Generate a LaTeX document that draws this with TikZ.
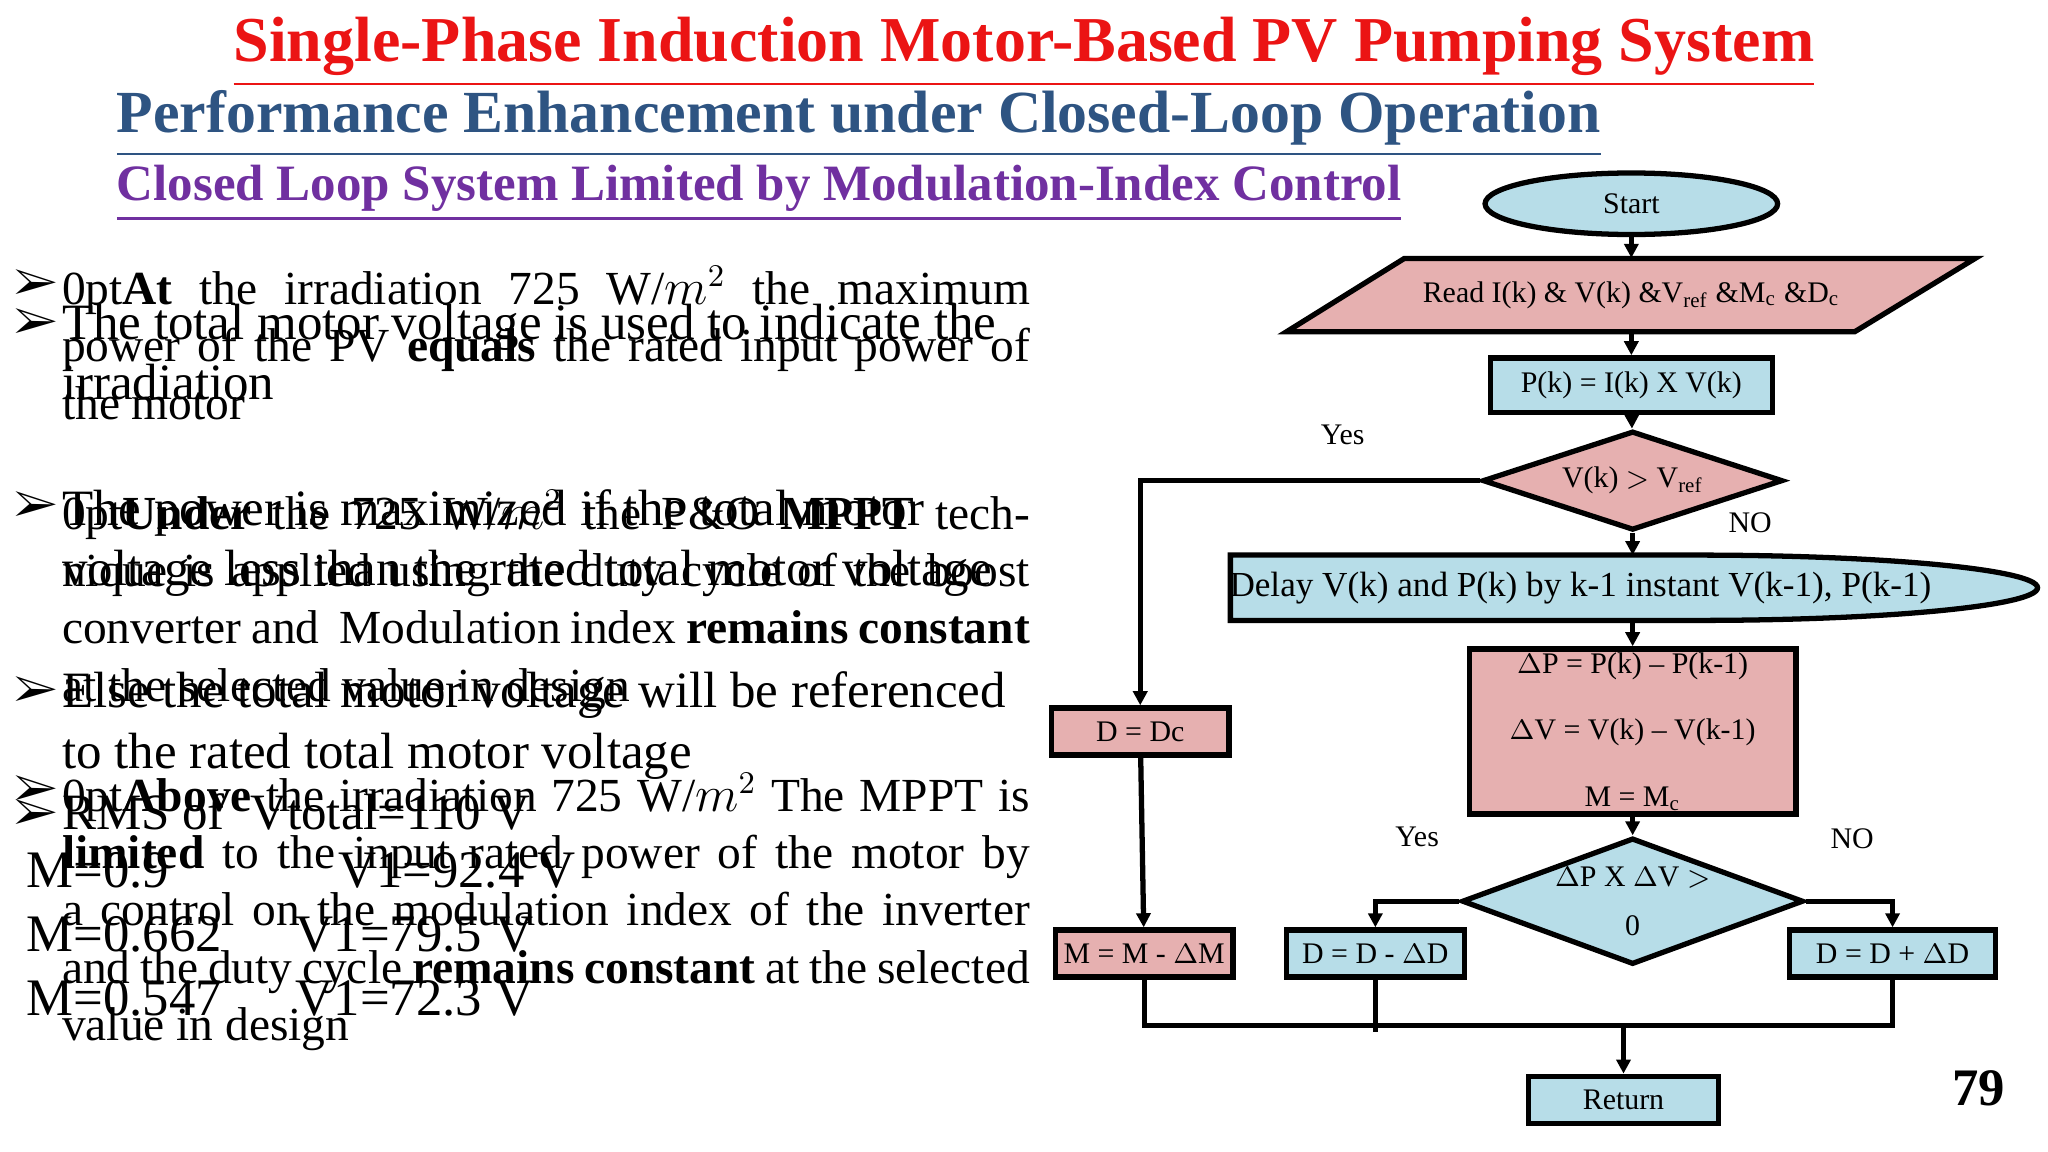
\documentclass[tikz,border=0pt]{standalone}
\usepackage{fontspec}
\setmainfont{Liberation Serif}
\usepackage{amsmath}
\usepackage{pifont}
\usetikzlibrary{shapes.geometric,arrows.meta}
\newlength{\upx}
\setlength{\upx}{0.01306cm}
\definecolor{flowblue}{RGB}{183,221,232}
\definecolor{flowpink}{RGB}{230,176,176}
\definecolor{titlered}{RGB}{235,20,20}
\definecolor{titleblue}{RGB}{46,84,130}
\definecolor{titlepurple}{RGB}{112,48,160}
\tikzset{
  box/.style={draw,line width=1.5pt,font=\fontsize{8.5}{10}\selectfont,minimum height=36\upx,inner sep=1pt},
  bluebox/.style={box,fill=flowblue},
  pinkbox/.style={box,fill=flowpink},
  link/.style={line width=1.5pt,-{Triangle[length=4pt,width=4pt]}},
  plain/.style={line width=1.5pt},
  lbl/.style={font=\fontsize{8.5}{10}\selectfont},
  parA/.style={anchor=north west,text width=741\upx,align=justify,inner sep=0pt,font=\fontsize{13.5}{16.3}\selectfont\hyphenpenalty=10000\exhyphenpenalty=10000},
  parB/.style={anchor=north west,inner sep=0pt,align=left,font=\fontsize{14.5}{17.3}\selectfont},
  bul/.style={anchor=north west,inner sep=0pt,font=\fontsize{13.5}{16}\selectfont}
}
\begin{document}
\begin{tikzpicture}[x=\upx,y=-\upx]
\useasboundingbox (0,0) rectangle (1568,882);
% titles
\node[font=\fontsize{18.2}{20}\selectfont\bfseries,text=titlered] (t1) at (784,40) {\underline{Single-Phase Induction Motor-Based PV Pumping System}};
\node[anchor=west,font=\fontsize{17}{20}\selectfont\bfseries,text=titleblue] (t2) at (80,95) {\underline{Performance Enhancement under Closed-Loop Operation}};
\node[anchor=west,font=\fontsize{14.5}{18}\selectfont\bfseries,text=titlepurple] (t3) at (80,148) {\underline{Closed Loop System Limited by Modulation-Index Control}};

% left text, first layer
\node[parA] (a1) at (47,203) {\textbf{At} the irradiation 725 W/$m^2$ the maximum power of the PV \textbf{equals} the rated input power of the motor};
\node[parA] (a2) at (47,375) {\textbf{Under} the 725 W/$m^2$ the P\&O \textbf{MPPT} technique is applied using the duty cycle of the boost converter and\ \ Modulation index \textbf{remains constant} at the selected value in design};
\node[parA] (a3) at (47,591) {\textbf{Above} the irradiation 725 W/$m^2$ The MPPT is \textbf{limited} to the input rated power of the motor by a control on the modulation index of the inverter and the duty cycle \textbf{remains constant} at the selected value in design};
% left text, second layer
\node[parB] (b1) at (47,232) {The total motor voltage is used to indicate the\\irradiation};
\node[parB] (b2) at (47,374) {The power is maximized if the total motor\\voltage less than the rated total motor voltage};
\node[parB] (b3) at (47,514) {Else the total motor voltage will be referenced\\to the rated total motor voltage};
\node[parB] (b4) at (47,607) {RMS of\ \ Vtotal=110 V};
\node[parB,font=\fontsize{15}{18.2}\selectfont] (b5) at (20,652) {M=0.9\hspace{3.2em}V1=92.4 V\\M=0.662\hspace{1.4em}V1=79.5 V\\M=0.547\hspace{1.4em}V1=72.3 V};
\foreach \yy/\nm in {206/k1,236/k2,376/k3,518/k4,594/k5,612/k6}
  \node[bul] (\nm) at (10,\yy) {\ding{226}};

% flowchart
\node[ellipse,draw,line width=1.5pt,fill=flowblue,minimum width=224\upx,minimum height=40\upx,lbl] (start) at (1249,156) {Start};
\draw[plain,fill=flowpink] (985,254) -- (1075,198) -- (1512,198) -- (1420,254) -- cycle;
\node[lbl,minimum height=56\upx,inner sep=0pt] (read) at (1249,226) {Read I(k) \& V(k) \&V$_{\text{ref}}$ \&M$_{\text{c}}$ \&D$_{\text{c}}$};
\node[bluebox,minimum width=216\upx,minimum height=42\upx] (pk) at (1249,295) {P(k) = I(k) X V(k)};
\node[diamond,aspect=3,draw,line width=1.5pt,fill=flowpink,minimum width=230\upx,minimum height=76\upx,lbl,inner sep=0pt] (cmp) at (1250,368) {V(k) $>$ V$_{\text{ref}}$};
\draw[plain,fill=flowblue] (942,425) -- (1300,425) arc[start angle=-90,end angle=90,x radius=260,y radius=25] -- (942,475) -- cycle;
\node[lbl,font=\fontsize{10}{12}\selectfont,minimum height=50\upx,inner sep=0pt] (delay) at (1210,450) {Delay V(k) and P(k) by k-1 instant V(k-1), P(k-1)};
\node[pinkbox,minimum width=250\upx,minimum height=125\upx,align=center] (dp) at (1250,560) {$\Delta$P = P(k) -- P(k-1)\\[9pt]$\Delta$V = V(k) -- V(k-1)\\[9pt]M = M$_{\text{c}}$};
\node[pinkbox,minimum width=136\upx] (ddc) at (873,560) {D = Dc};
\node[diamond,aspect=2.7,draw,line width=1.5pt,fill=flowblue,minimum width=244\upx,minimum height=90\upx,lbl,inner sep=0pt,align=center] (sgn) at (1250,690) {$\Delta$P X $\Delta$V $>$\\[4pt]0};
\node[pinkbox,minimum width=136\upx] (mm) at (876,730) {M = M - $\Delta$M};
\node[bluebox,minimum width=136\upx] (dminus) at (1053,730) {D = D - $\Delta$D};
\node[bluebox,minimum width=158\upx] (dplus) at (1449,730) {D = D + $\Delta$D};
\node[bluebox,minimum width=145\upx] (ret) at (1243,842) {Return};
\coordinate (join) at (1243,785);

\draw[link] (start) -- (read);
\draw[link] (read) -- (pk);
\draw[link] (pk) -- (cmp);
\draw[link] (cmp) -- (1250,425);
\draw[link] (1250,475) -- (dp);
\draw[link] (dp) -- (sgn);
\draw[link] (cmp.west) -| (ddc.north);
\draw[link] (ddc) -- (mm);
\draw[link] (sgn.west) -| (dminus.north);
\draw[link] (sgn.east) -| (dplus.north);
\draw[plain] (mm.south) |- (1449,785) -- (dplus.south);
\draw[plain] (dminus.south) -- (1053,790);
\draw[link] (join) -- (ret);

\node[lbl] (yes1) at (1028,333) {Yes};
\node[lbl] (no1) at (1340,400) {NO};
\node[lbl] (yes2) at (1085,641) {Yes};
\node[lbl] (no2) at (1418,642) {NO};
\node[font=\fontsize{15}{18}\selectfont\bfseries] (pg) at (1515,833) {79};
\end{tikzpicture}
\end{document}
